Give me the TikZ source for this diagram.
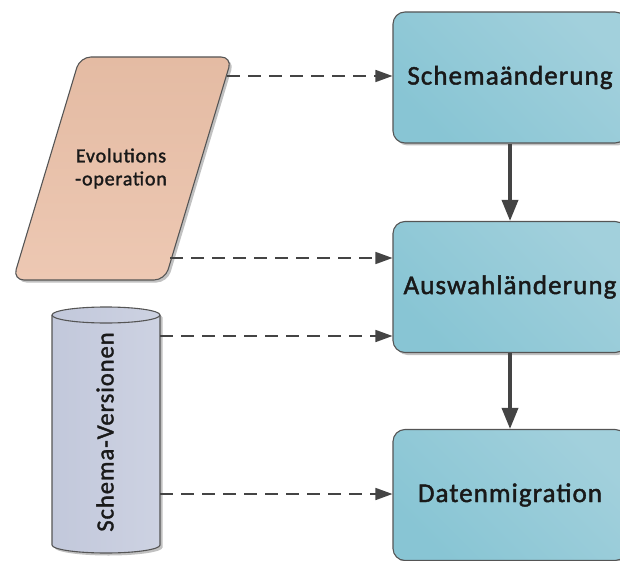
\documentclass[tikz,border=0pt]{standalone}
\usepackage{fontspec}
\setmainfont{Carlito}
\newfontfamily\diafont[LetterSpace=4,FakeBold=1.6]{Carlito}
\usetikzlibrary{arrows.meta,shadows}

\definecolor{edgegray}{HTML}{555555}
\definecolor{arrowgray}{HTML}{444444}
\definecolor{procA}{HTML}{88C5D4}
\definecolor{procB}{HTML}{A2D0DC}
\definecolor{evoA}{HTML}{E4BBA3}
\definecolor{evoB}{HTML}{EDC8B3}
\definecolor{cylA}{HTML}{C2C8DB}
\definecolor{cylB}{HTML}{CDD2E2}

\begin{document}
\begin{tikzpicture}[x=1pt,y=-1pt,
  softshadow/.style={drop shadow={shadow xshift=2.5pt,shadow yshift=-2.5pt,opacity=0.35,fill=black!70}},
  procbox/.style={draw=edgegray,line width=1.1pt,rounded corners=12pt,
    minimum width=234pt,minimum height=131pt,inner sep=0pt,
    left color=procA,right color=procB,shading angle=135,softshadow,
    font=\diafont\fontsize{27}{31}\selectfont,text=black!90},
  evoshape/.style={draw=edgegray,line width=1.1pt,rounded corners=11pt,
    top color=evoA,bottom color=evoB,softshadow},
  cylshape/.style={draw=edgegray,line width=1.1pt,
    left color=cylA,right color=cylB,softshadow},
  flowarrow/.style={draw=arrowgray,line width=3.5pt,
    -{Triangle[length=21pt,width=16pt]}},
  feedarrow/.style={draw=arrowgray,line width=1.6pt,dash pattern=on 13pt off 8pt,
    -{Triangle[length=17pt,width=12pt]}},
  labeltext/.style={font=\diafont\fontsize{20}{23}\selectfont,text=black!90,align=center},
  cyltext/.style={font=\diafont\fontsize{24.5}{27}\selectfont,text=black!90,rotate=90}
]
\useasboundingbox (0,0) rectangle (620,561);
\clip (0,0) rectangle (620,561);

% process steps on the right
\node[procbox] (s1) at (510,77.5) {Schemaänderung};
\node[procbox] (s2) at (510,287) {Auswahländerung};
\node[procbox] (s3) at (510,495) {Datenmigration};

% evolution operation (parallelogram)
\path[evoshape] (80,57) -- (232,57) -- (165,280) -- (13,280) -- cycle;
\node[labeltext] (evo) at (121,168.5) {Evolutions\\-operation};
\coordinate (evoOut1) at (227,76);
\coordinate (evoOut2) at (170,258);

% schema versions (cylinder)
\path[cylshape] (52,315) -- (52,545)
  arc[start angle=180,end angle=0,x radius=54,y radius=8]
  -- (160,315)
  arc[start angle=0,end angle=-180,x radius=54,y radius=8] -- cycle;
\draw[edgegray,line width=1.1pt] (52,315) arc[start angle=180,end angle=0,x radius=54,y radius=8];
\node[cyltext] (ver) at (105,432) {Schema-Versionen};
\coordinate (verOut1) at (160,336);
\coordinate (verOut2) at (160,494);

% main flow
\draw[flowarrow] (s1.south) -- (s2.north);
\draw[flowarrow] (s2.south) -- (s3.north);

% inputs
\draw[feedarrow] (evoOut1) -- (evoOut1 -| s1.west);
\draw[feedarrow] (evoOut2) -- (evoOut2 -| s2.west);
\draw[feedarrow] (verOut1) -- (verOut1 -| s2.west);
\draw[feedarrow] (verOut2) -- (verOut2 -| s3.west);
\end{tikzpicture}
\end{document}
